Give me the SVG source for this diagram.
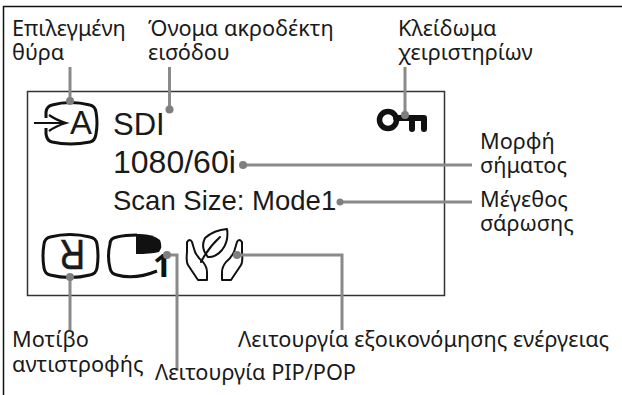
<svg xmlns="http://www.w3.org/2000/svg" width="622" height="395" viewBox="0 0 622 395">
<style>
.l{font-family:"Noto Sans","Open Sans",sans-serif;font-size:21.7px;fill:#1a1a1a}
.s{font-family:"Liberation Sans",Arial,sans-serif;fill:#1a1a1a}
.c{fill:none;stroke:#8a8a8c;stroke-width:3}
.d{fill:#7f7f82}
.i{fill:none;stroke:#111;stroke-width:3;stroke-linejoin:round}
.h{fill:none;stroke:#111;stroke-width:2;stroke-linejoin:round;stroke-linecap:round}
</style>
<rect width="622" height="395" fill="#fff"/>
<rect x="3.5" y="6.5" width="700" height="500" fill="none" stroke="#111" stroke-width="1.5"/>
<rect id="screen" x="27.5" y="91.5" width="417" height="204" fill="none" stroke="#333" stroke-width="1.5"/>
<g id="input-icon">
<path class="i" d="M46 118V112Q47 106 52 105Q70 100 90 105Q95 106 96 112Q98 123 96 134Q95 141 90 142Q70 146 52 142Q47 141 46 134V128"/>
<path d="M34 123H66M49 115Q56 120 66 123Q56 126 49 131" fill="none" stroke="#111" stroke-width="2.2"/>
<text class="s" x="70" y="134" font-size="33">A</text>
</g>
<g id="input-name"><text class="s" x="113" y="135" font-size="31">SDI</text></g>
<g id="key-icon">
<circle cx="388" cy="120" r="8.500" fill="none" stroke="#111" stroke-width="5.500"/>
<path d="M396 118H424M412 118V129M424 118V129" fill="none" stroke="#111" stroke-width="6" stroke-linecap="round"/>
</g>
<g id="signal-format"><text class="s" x="113" y="173" font-size="32">1080/60i</text></g>
<g id="scan-size"><text class="s" x="113" y="210" font-size="27.500">Scan Size: Mode1</text></g>
<g id="reverse-icon">
<path class="i" d="M50 237Q70 232 90 237Q96 238 97 244Q99 256 97 268Q96 274 90 275Q70 280 50 275Q45 274 44 268Q42 256 44 244Q45 238 50 237Z"/>
<text class="s" transform="translate(85 240) rotate(180) scale(.82 1)" font-size="43" stroke="#1a1a1a" stroke-width=".6">R</text>
</g>
<g id="pip-icon">
<path class="i" d="M137 235Q125 235 117 237Q110 238 110 244Q107 256 110 268Q111 274 117 275Q135 280 157 271"/>
<path d="M136 234Q152 233 160 240Q163 247 159 252Q150 254 136 254Z" fill="#111"/>
<text x="153" y="277" font-family="Noto Sans,sans-serif" font-weight="bold" font-size="32" fill="#111">1</text>
</g>
<g id="eco-icon">
<g id="hand-left"><path class="h" d="M187 242Q190 238 192 242L195 252Q198 258 203 262Q207 267 207 272V280H198L188 265Q186 262 187 252Z"/></g>
<g id="hand-right" transform="translate(429 0) scale(-1 1)"><path class="h" d="M187 242Q190 238 192 242L195 252Q198 258 203 262Q207 267 207 272V280H198L188 265Q186 262 187 252Z"/></g>
<path class="h" d="M208 257Q200 248 205 238Q214 230 227 229Q229 241 222 250Q215 258 208 257ZM201 262Q208 248 220 237"/>
</g>
<g id="connectors">
<path class="c" d="M70 67V101M169.500 67V109M405 67V115M243 165H472M340 202H472M70 277V330M167 255H177V371M237 255H342V330"/>
<circle class="d" cx="70" cy="101" r="4"/><circle class="d" cx="169.500" cy="109.500" r="4"/><circle class="d" cx="405" cy="115" r="4"/><circle class="d" cx="243" cy="165" r="4"/><circle class="d" cx="340" cy="202" r="3.500"/><circle class="d" cx="70" cy="277" r="4"/><circle class="d" cx="167" cy="255" r="4"/><circle class="d" cx="237" cy="255" r="4"/>
</g>
<g id="label-port"><text class="l"><tspan x="12" y="36">Επιλεγμένη</tspan><tspan x="12" y="60">θύρα</tspan></text></g>
<g id="label-name"><text class="l"><tspan x="148" y="36">Όνομα ακροδέκτη</tspan><tspan x="148" y="60">εισόδου</tspan></text></g>
<g id="label-lock"><text class="l"><tspan x="398" y="36">Κλείδωμα</tspan><tspan x="398" y="60">χειριστηρίων</tspan></text></g>
<g id="label-format"><text class="l"><tspan x="480" y="149">Μορφή</tspan><tspan x="480" y="173">σήματος</tspan></text></g>
<g id="label-size"><text class="l"><tspan x="480" y="207">Μέγεθος</tspan><tspan x="480" y="231">σάρωσης</tspan></text></g>
<g id="label-pattern"><text class="l"><tspan x="12" y="347">Μοτίβο</tspan><tspan x="12" y="372">αντιστροφής</tspan></text></g>
<g id="label-pip"><text class="l" x="155" y="380">Λειτουργία PIP/POP</text></g>
<g id="label-eco"><text class="l" x="238" y="347">Λειτουργία εξοικονόμησης ενέργειας</text></g>
</svg>
